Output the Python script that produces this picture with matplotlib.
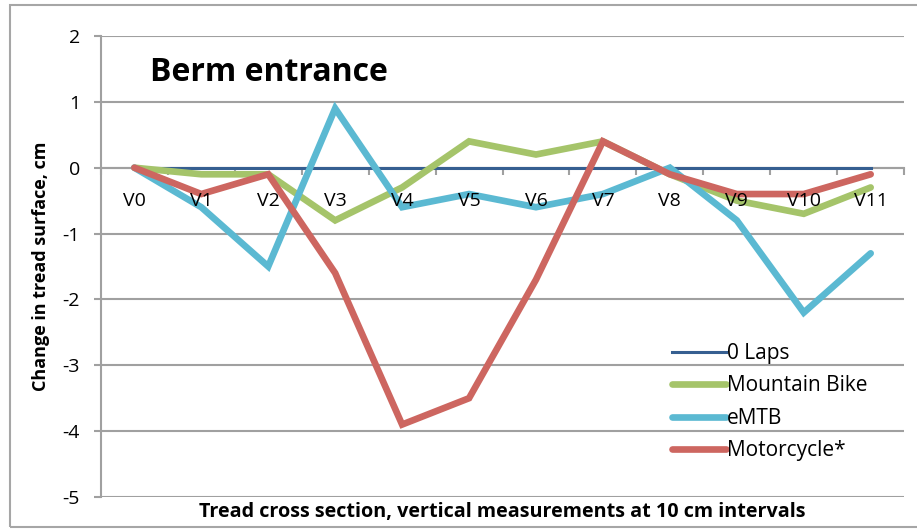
import numpy as np
import matplotlib
matplotlib.use("Agg")
import matplotlib.pyplot as plt
from matplotlib.patches import Rectangle

plt.rcParams['font.family'] = ['Open Sans', 'DejaVu Sans']
plt.rcParams['axes.unicode_minus'] = False

# data
positions = ['V0', 'V1', 'V2', 'V3', 'V4', 'V5', 'V6', 'V7', 'V8', 'V9', 'V10', 'V11']
zero_laps = [0, 0, 0, 0, 0, 0, 0, 0, 0, 0, 0, 0]
mountain_bike = [0, -0.1, -0.1, -0.8, -0.3, 0.4, 0.2, 0.4, -0.1, -0.5, -0.7, -0.3]
emtb = [0, -0.6, -1.5, 0.9, -0.6, -0.4, -0.6, -0.4, 0.0, -0.8, -2.2, -1.3]
motorcycle = [0, -0.4, -0.1, -1.6, -3.9, -3.5, -1.7, 0.4, -0.1, -0.4, -0.4, -0.1]

fig = plt.figure(figsize=(9.17, 5.29), dpi=100)
ax = fig.add_axes([0.110, 0.0605, 0.876, 0.8715])

# outer chart border
fig.patches.append(Rectangle((10 / 917, 2 / 529), 1.0, 522 / 529, transform=fig.transFigure,
                             fill=False, edgecolor='#A6A6A6', linewidth=1.5))

x = np.arange(len(positions))
ax.plot(x, zero_laps, color='#365F91', lw=2.2, label='0 Laps', zorder=3)
ax.plot(x, mountain_bike, color='#A5C46A', lw=4.8, label='Mountain Bike', zorder=4,
        solid_capstyle='round', solid_joinstyle='miter')
ax.plot(x, emtb, color='#5BB9D2', lw=4.8, label='eMTB', zorder=5,
        solid_capstyle='round', solid_joinstyle='miter')
ax.plot(x, motorcycle, color='#CD6660', lw=4.8, label='Motorcycle*', zorder=6,
        solid_capstyle='round', solid_joinstyle='miter')

ax.set_xlim(-0.5, 11.5)
ax.set_ylim(-5, 2)
ax.set_yticks(range(-5, 3))
ax.yaxis.grid(True, color='#A0A0A0', lw=1.5)
ax.set_axisbelow(True)

for s in ['top', 'right']:
    ax.spines[s].set_visible(False)
ax.spines['left'].set_color('#A0A0A0')
ax.spines['left'].set_linewidth(1.5)
ax.spines['bottom'].set_position(('data', 0))
ax.spines['bottom'].set_color('#A0A0A0')
ax.spines['bottom'].set_linewidth(1.5)

# category labels drawn as text so they sit above the lines, like the original
ax.set_xticks(x)
ax.set_xticklabels([])
ax.set_xticks(np.arange(-0.5, 12, 1), minor=True)
ax.tick_params(axis='x', which='major', length=0)
ax.tick_params(axis='x', which='minor', length=5, width=1.5, color='#A0A0A0', direction='out')
for xi, lab in zip(x, positions):
    ax.annotate(lab, (xi, 0), xytext=(0, -24), textcoords='offset points',
                ha='center', va='center', fontsize=14, zorder=10)
ax.tick_params(axis='y', length=5, width=1.5, color='#A0A0A0', labelsize=14, pad=10)

ax.text(0.061, 0.92, 'Berm entrance', transform=ax.transAxes, fontsize=23,
        fontweight='bold', va='center', ha='left')
ax.set_ylabel('Change in tread surface, cm', fontsize=13, fontweight='bold', labelpad=9)
fig.text(0.548, 0.032, 'Tread cross section, vertical measurements at 10 cm intervals',
         fontsize=14.2, fontweight='bold', ha='center', va='center')

ax.legend(loc='upper left', bbox_to_anchor=(0.711, 0.334), frameon=False, fontsize=15,
          handlelength=2.6, handletextpad=0.05, labelspacing=0.55, borderaxespad=0,
          borderpad=0)

fig.savefig('out.png', dpi=100)
